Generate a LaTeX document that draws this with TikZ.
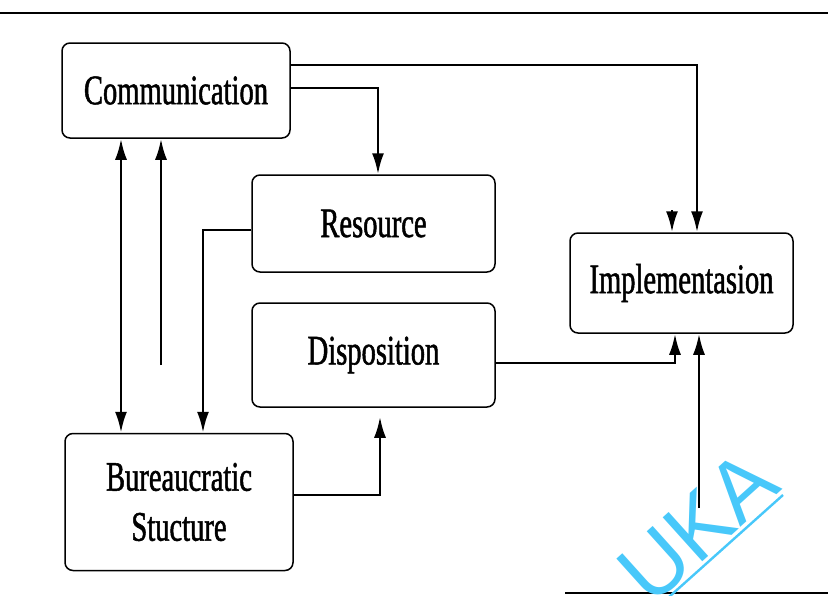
\documentclass[tikz,border=0pt]{standalone}
\usepackage{fontspec}
\setmainfont{Liberation Serif}[FakeStretch=0.68, FakeBold=1.2]
\newfontfamily\wmfont{Liberation Sans}
\usetikzlibrary{arrows.meta}
\definecolor{wmcyan}{RGB}{72,200,250}

\begin{document}
\begin{tikzpicture}[x=1pt, y=-1pt,
		box/.style={draw, rounded corners=8pt, line width=1.5pt, align=center, inner sep=0pt,
			font=\fontsize{42}{50}\selectfont},
		conn/.style={line width=2.6pt, -{Latex[length=21pt, width=12pt]}}]
	\useasboundingbox (0,0) rectangle (828,595);
	\draw[line width=2.6pt] (0,13) -- (828,13);
	\draw[line width=2.6pt] (565,593) -- (828,593);
	\node[wmcyan, rotate=42, font=\wmfont\fontsize{86}{86}\selectfont] (mark) at (698,527) {UKA};
	\draw[wmcyan, line width=2.4pt] (650,614) -- (783,495);

	\node[box, minimum width=228pt, minimum height=95pt] (comm) at (176,90.5) {Communication};
	\node[box, minimum width=243pt, minimum height=97pt] (res) at (373.5,223.5) {Resource};
	\node[box, minimum width=243pt, minimum height=104pt] (disp) at (373.5,355) {Disposition};
	\node[box, minimum width=223pt, minimum height=100pt] (impl) at (681.5,283) {Implementasion};
	\node[box, minimum width=228pt, minimum height=137pt] (bur) at (179,502) {Bureaucratic\\Stucture};
	\coordinate (stub) at (672,210);
	\coordinate (freea) at (161,365);
	\coordinate (freeb) at (699,508);

	\draw[conn] ([yshift=25.5pt]comm.east) -| ([xshift=15.5pt]impl.north);
	\draw[conn] ([yshift=2.5pt]comm.east) -| ([xshift=4.5pt]res.north);
	\draw[conn] (stub) -- (stub |- impl.north);
	\draw[conn, {Latex[length=21pt, width=12pt]}-{Latex[length=21pt, width=12pt]}] ([xshift=-55pt]comm.south) -- ([xshift=-55pt]comm.south |- bur.north);
	\draw[conn] (freea) -- (freea |- comm.south);
	\draw[conn] ([yshift=-6.5pt]res.west) -| ([xshift=24pt]bur.north);
	\draw[conn, shorten >=9pt] ([yshift=7pt]bur.east) -| ([xshift=6.5pt]disp.south);
	\draw[conn] ([yshift=-8pt]disp.east) -| ([xshift=-6.5pt]impl.south);
	\draw[conn] (freeb) -- (freeb |- impl.south);
\end{tikzpicture}
\end{document}
